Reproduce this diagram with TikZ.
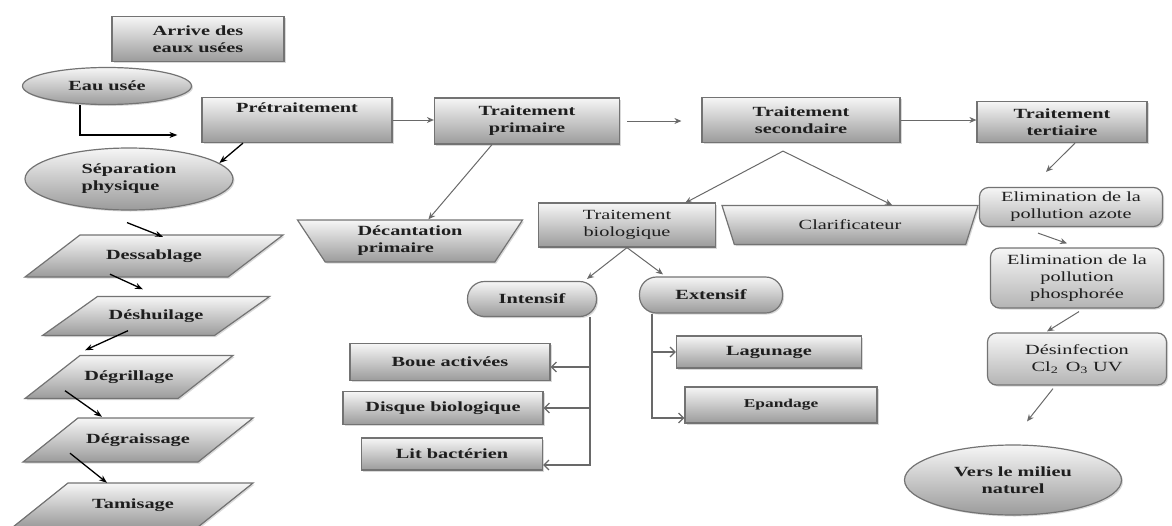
\documentclass[tikz,border=0pt]{standalone}
\usepackage{fontspec}
\setmainfont{Liberation Serif}[FakeStretch=1.45]
\usetikzlibrary{positioning, arrows.meta, shapes.geometric, shadows}

\definecolor{EdgeColor}{RGB}{115,115,115}
\definecolor{TopColor}{RGB}{246,246,246}
\definecolor{BottomColor}{RGB}{155,155,155}
\definecolor{ArrowColor}{RGB}{105,105,105}
\definecolor{TextColor}{RGB}{30,30,30}

\tikzstyle{shaded} = [draw=EdgeColor, line width=1.2pt, top color=TopColor, bottom color=BottomColor, drop shadow={shadow xshift=1.5pt, shadow yshift=-1.5pt, opacity=0.3}]
\tikzstyle{base} = [shaded, text=TextColor, inner sep=0pt, align=center, font=\fontsize{14}{17}\selectfont\bfseries]
\tikzstyle{box} = [base, rectangle]
\tikzstyle{oval} = [base, ellipse]
\tikzstyle{pill} = [base, rectangle, rounded corners=17pt]
\tikzstyle{soft} = [base, rectangle, rounded corners=9pt, bottom color=BottomColor!75, font=\fontsize{14}{17}\selectfont]
\tikzstyle{funnel} = [base, trapezium, shape border rotate=180, trapezium stretches body]
\tikzstyle{slanttext} = [rectangle, inner sep=0pt, text=TextColor, font=\fontsize{14}{17}\selectfont\bfseries]
\tikzstyle{arrow} = [ArrowColor, line width=1pt, -{Stealth[length=7pt,width=6pt]}]
\tikzstyle{blackarrow} = [black, line width=1.3pt, -{Stealth[length=8pt,width=6pt]}]
\tikzstyle{branch} = [ArrowColor, line width=1.2pt, -{Straight Barb[length=5pt,width=10pt]}]

% slanted box: name, x, y, full width, height, text (slant of 55)
\newcommand{\slantbox}[6]{%
    \path[shaded] (#2-#4/2, #3+#5/2) -- (#2+#4/2-55, #3+#5/2) -- (#2+#4/2, #3-#5/2) -- (#2-#4/2+55, #3-#5/2) -- cycle;
    \node[slanttext, minimum width={(#4-55)*1pt}, minimum height={#5*1pt}] (#1) at (#2,#3) {#6};
}

\begin{document}
\begin{tikzpicture}[x=1pt, y=-1pt]
    \useasboundingbox (0,0) rectangle (1172,525);

    % Main line
    \node[box, minimum width=172pt, minimum height=45pt] (arrive) at (198,39) {Arrive des\\eaux usées};
    \node[oval, minimum width=169pt, minimum height=37pt] (eau) at (107,86) {Eau usée};
    \node[box, minimum width=190pt, minimum height=45pt, text depth=25pt] (pre) at (297,120) {Prétraitement};
    \node[box, minimum width=185pt, minimum height=46pt] (prim) at (527,121) {Traitement\\primaire};
    \node[box, minimum width=198pt, minimum height=45pt] (sec) at (801,120) {Traitement\\secondaire};
    \node[box, minimum width=170pt, minimum height=41pt] (tert) at (1062,122) {Traitement\\tertiaire};

    % Pretreatment steps
    \node[oval, minimum width=208pt, minimum height=62pt, align=left] (sep) at (129,179) {Séparation\\physique};
    \slantbox{dessab}{154}{256}{258}{42}{Dessablage}
    \slantbox{deshuil}{156}{316}{227}{39}{Déshuilage}
    \slantbox{degril}{129}{377}{208}{43}{Dégrillage}
    \slantbox{degrais}{138}{440}{230}{44}{Dégraissage}
    \slantbox{tamis}{133}{505}{240}{44}{Tamisage}

    % Primary and secondary
    \node[funnel, trapezium left angle=47, trapezium right angle=47, minimum width=225pt, minimum height=42pt, align=left] (decant) at (410,241) {Décantation\\primaire};
    \node[box, minimum width=177pt, minimum height=44pt, font=\fontsize{14}{17}\selectfont] (bio) at (627,225) {Traitement\\biologique};
    \node[funnel, trapezium left angle=39, trapezium right angle=39, minimum width=256pt, minimum height=39pt, font=\fontsize{14}{17}\selectfont] (clar) at (850,225) {Clarificateur};

    % Biological branches
    \node[pill, minimum width=129pt, minimum height=35pt] (intens) at (532,299) {Intensif};
    \node[pill, minimum width=143pt, minimum height=36pt] (extens) at (711,295) {Extensif};
    \node[box, minimum width=200pt, minimum height=37pt] (boue) at (450,362) {Boue activées};
    \node[box, minimum width=200pt, minimum height=33pt] (disque) at (443,408) {Disque biologique};
    \node[box, minimum width=181pt, minimum height=32pt] (lit) at (452,454) {Lit bactérien};
    \node[box, minimum width=185pt, minimum height=32pt] (lagun) at (769,352) {Lagunage};
    \node[box, minimum width=192pt, minimum height=36pt, font=\fontsize{12}{14}\selectfont\bfseries] (epand) at (781,405) {Epandage};

    % Tertiary steps
    \node[soft, minimum width=183pt, minimum height=39pt] (azote) at (1071,207) {Elimination de la\\pollution azote};
    \node[soft, minimum width=173pt, minimum height=60pt] (phos) at (1077,278) {Elimination de la\\pollution\\phosphorée};
    \node[soft, minimum width=179pt, minimum height=52pt] (desinf) at (1077,359) {Désinfection\\Cl\textsubscript{2}\, O\textsubscript{3} UV};
    \node[oval, minimum width=217pt, minimum height=70pt] (milieu) at (1013,480) {Vers le milieu\\naturel};

    % Arrows along the top
    \draw[blackarrow, shorten >=24pt] ([xshift=-27pt]eau.south) |- ([yshift=-15pt]pre.west);
    \draw[arrow] (pre.east) -- (pre.east -| prim.west);
    \draw[arrow, shorten <=7pt, shorten >=20pt] (prim.east) -- (prim.east -| sec.west);
    \draw[arrow] (sec.east) -- (sec.east -| tert.west);
    \draw[arrow] ([xshift=-35pt]prim.south) -- (decant);

    % Secondary split
    \coordinate (split) at ([shift={(-18pt,-8pt)}]sec.south);
    \draw[arrow] (split) -- ([shift={(58pt,22pt)}]bio.center);
    \draw[arrow] (split) -- ([shift={(42pt,20pt)}]clar.center);
    \draw[arrow] (bio.south) -- ([shift={(55pt,2pt)}]intens.north);
    \draw[arrow] (bio.south) -- ([shift={(-48pt,2pt)}]extens.north);

    % Intensif / Extensif
    \draw[branch] ([xshift=58pt]intens.south) |- ([yshift=-5pt]boue.east);
    \draw[branch] ([xshift=58pt]intens.south) |- (disque.east);
    \draw[branch] ([xshift=58pt]intens.south) |- ([yshift=-11pt]lit.east);
    \draw[branch] ([xshift=-59pt]extens.south) |- (lagun.west);
    \draw[branch] ([xshift=-59pt]extens.south) |- ([yshift=-13pt]epand.west);

    % Pretreatment chain
    \draw[blackarrow] ([xshift=-54pt]pre.south) -- (sep.10);
    \draw[blackarrow] ([shift={(-2pt,-12pt)}]sep.south) -- ([shift={(9pt,-2pt)}]dessab.north);
    \draw[blackarrow] ([shift={(-44pt,3pt)}]dessab.south) -- ([shift={(-13pt,7pt)}]deshuil.north);
    \draw[blackarrow] ([shift={(-28pt,5pt)}]deshuil.south) -- ([shift={(-44pt,5pt)}]degril.north);
    \draw[blackarrow] ([shift={(-64pt,8pt)}]degril.south) -- ([shift={(-36pt,1pt)}]degrais.north);
    \draw[blackarrow] ([shift={(-68pt,9pt)}]degrais.south) -- ([xshift=-26pt]tamis.north);

    % Tertiary chain
    \draw[arrow] ([xshift=13pt]tert.south) -- ([shift={(-25pt,15pt)}]azote.north);
    \draw[arrow] ([shift={(-33pt,-6pt)}]azote.south) -- ([shift={(-10pt,4pt)}]phos.north);
    \draw[arrow] ([shift={(2pt,-3pt)}]phos.south) -- ([shift={(-30pt,1pt)}]desinf.north);
    \draw[arrow] ([shift={(-24pt,-3pt)}]desinf.south) -- ([shift={(14pt,23pt)}]milieu.north);
\end{tikzpicture}
\end{document}
